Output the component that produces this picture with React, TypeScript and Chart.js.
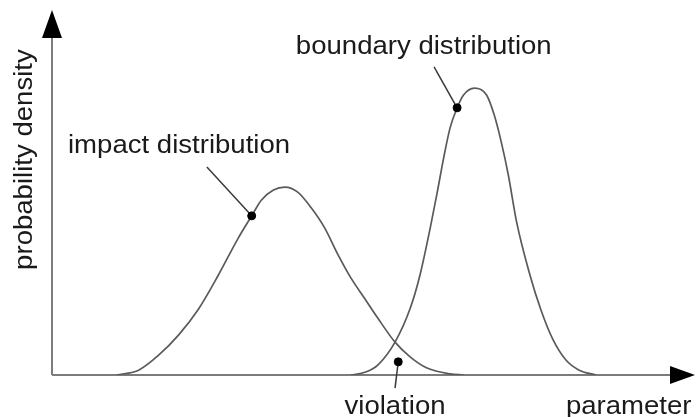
import { useEffect, useRef } from "react";
import { Chart, registerables } from "chart.js";

Chart.register(...registerables);

// impact distribution (parameter, probability density)
const impactParam = [10.1, 13.6, 16.7, 19.8, 22.9, 26.0, 29.1, 31.2, 32.7, 34.6, 36.4, 38.4, 40.5, 42.6, 44.7, 46.7, 48.8, 50.9, 53.6, 56.0, 58.6, 62.2, 64.3];
const impactDensity = [0, 1.4, 5.5, 11.0, 18.1, 27.4, 37.5, 43.6, 47.9, 50.7, 51.5, 50.1, 45.8, 40.3, 32.9, 26.6, 21.1, 15.6, 9.0, 4.9, 1.9, 0.3, 0];

// boundary distribution
const boundaryParam = [46.7, 49.0, 50.9, 53.6, 56.0, 57.5, 59.1, 60.2, 61.2, 62.2, 63.3, 64.3, 66.0, 67.9, 69.1, 70.2, 71.3, 72.6, 74.6, 76.4, 78.3, 80.3, 82.3, 85.0];
const boundaryDensity = [0, 0.8, 2.7, 9.0, 18.4, 27.4, 40.3, 50.1, 59.5, 67.7, 73.2, 76.7, 78.6, 76.7, 71.2, 63.8, 54.8, 41.9, 27.9, 17.8, 9.6, 4.1, 1.4, 0];

// marked points: impact, boundary, violation
const markerParam = [31.2, 63.3, 54.1];
const markerDensity = [43.6, 73.2, 3.6];

// leader line far ends for the three markers
const leaderParam = [24.2, 59.7, 53.6];
const leaderDensity = [57.0, 84.4, -3.6];

const labelTexts = ["impact distribution", "boundary distribution", "violation"];
const xAxisTitle = "parameter";
const yAxisTitle = "probability density";

const FONT = '26px "Liberation Sans", Arial, Helvetica, sans-serif';
const TEXT_COLOR = "#1a1a1a";
const STRETCH = 1.06;

function drawText(ctx: CanvasRenderingContext2D, text: string, x: number, y: number, angle = 0) {
  ctx.save();
  ctx.translate(x, y);
  if (angle) ctx.rotate(angle);
  ctx.scale(STRETCH, 1);
  ctx.font = FONT;
  ctx.fillStyle = TEXT_COLOR;
  ctx.textAlign = "left";
  ctx.textBaseline = "alphabetic";
  ctx.fillText(text, 0, 0);
  ctx.restore();
}

const overlayPlugin = {
  id: "schematicOverlay",
  beforeDatasetsDraw(chart: any) {
    const { ctx, scales } = chart;
    const xs = scales.x;
    const ys = scales.y;
    const x0 = xs.getPixelForValue(0);
    const y0 = ys.getPixelForValue(0);
    const top = ys.getPixelForValue(100);
    const right = xs.getPixelForValue(100);
    ctx.save();
    ctx.strokeStyle = "#7c7c7c";
    ctx.lineWidth = 2;
    ctx.beginPath();
    ctx.moveTo(x0, y0);
    ctx.lineTo(x0, top + 26);
    ctx.moveTo(x0, y0);
    ctx.lineTo(right - 20, y0);
    ctx.stroke();
    // arrow heads
    ctx.fillStyle = "#000";
    ctx.beginPath();
    ctx.moveTo(x0, top);
    ctx.lineTo(x0 - 10, top + 28);
    ctx.lineTo(x0 + 10, top + 28);
    ctx.closePath();
    ctx.fill();
    ctx.beginPath();
    ctx.moveTo(right + 3, y0);
    ctx.lineTo(right - 22, y0 - 9);
    ctx.lineTo(right - 22, y0 + 9);
    ctx.closePath();
    ctx.fill();
    ctx.restore();
  },
  afterDraw(chart: any) {
    const { ctx, scales } = chart;
    const xs = scales.x;
    const ys = scales.y;
    const px = (v: number) => xs.getPixelForValue(v);
    const py = (v: number) => ys.getPixelForValue(v);
    drawText(ctx, labelTexts[0], px(2.5), py(60.8));
    drawText(ctx, labelTexts[1], px(38.1), py(87.9));
    drawText(ctx, labelTexts[2], px(45.7), py(-10.7));
    drawText(ctx, xAxisTitle, px(80.3), py(-10.7));
    drawText(ctx, yAxisTitle, px(0) - 20.5, py(28.8), -Math.PI / 2);
  },
};

export default function App() {
  const canvasRef = useRef<HTMLCanvasElement | null>(null);

  useEffect(() => {
    document.body.style.margin = "0";
    const canvas = canvasRef.current;
    if (!canvas) return;

    const toPoints = (xs: number[], ys: number[]) => xs.map((x, i) => ({ x, y: ys[i] }));

    const leaders = markerParam.map((mx, i) => ({
      type: "line" as const,
      data: [
        { x: leaderParam[i], y: leaderDensity[i] },
        { x: mx, y: markerDensity[i] },
      ],
      borderColor: "#3a3a3a",
      borderWidth: 1.5,
      pointRadius: 0,
      tension: 0,
      clip: false as any,
      order: 2,
    }));

    const chart = new Chart(canvas, {
      type: "line",
      data: {
        datasets: [
          {
            type: "scatter" as const,
            data: toPoints(markerParam, markerDensity),
            backgroundColor: "#000",
            borderColor: "#000",
            pointRadius: 4,
            pointHoverRadius: 4,
            clip: false as any,
            order: 1,
          } as any,
          ...leaders,
          {
            type: "line" as const,
            data: toPoints(impactParam, impactDensity),
            borderColor: "#5a5a5a",
            borderWidth: 1.7,
            pointRadius: 0,
            cubicInterpolationMode: "monotone",
            fill: false,
            order: 3,
          },
          {
            type: "line" as const,
            data: toPoints(boundaryParam, boundaryDensity),
            borderColor: "#5a5a5a",
            borderWidth: 1.7,
            pointRadius: 0,
            cubicInterpolationMode: "monotone",
            fill: false,
            order: 3,
          },
        ],
      },
      options: {
        animation: false,
        responsive: true,
        maintainAspectRatio: false,
        events: [],
        layout: { padding: { left: 52, top: 10, right: 0, bottom: 42 } },
        scales: {
          x: { type: "linear", min: 0, max: 100, display: false },
          y: { type: "linear", min: 0, max: 100, display: false },
        },
        plugins: {
          legend: { display: false },
          tooltip: { enabled: false },
        },
      },
      plugins: [overlayPlugin],
    });

    return () => chart.destroy();
  }, []);

  return (
    <div style={{ width: 697, height: 417, position: "relative", background: "#fff" }}>
      <canvas ref={canvasRef} />
    </div>
  );
}
